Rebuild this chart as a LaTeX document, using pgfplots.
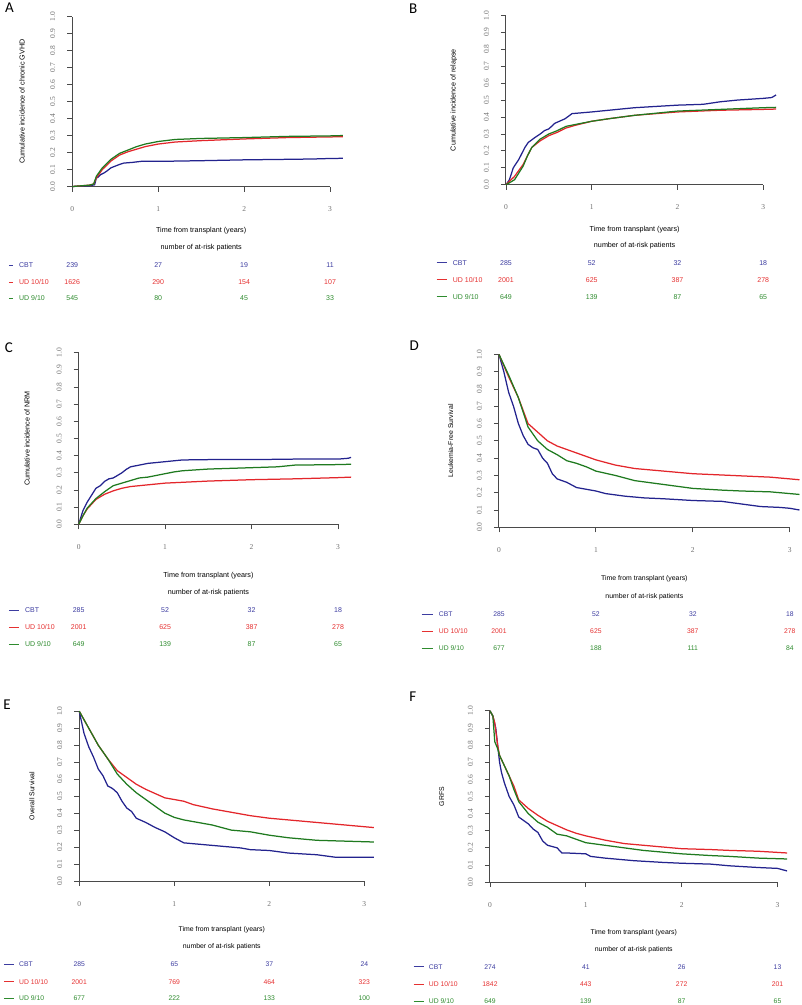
\documentclass[border=0pt]{standalone}
\usepackage{pgfplots}
\pgfplotsset{compat=1.18}
\usepackage{fontspec}
\setmainfont{Liberation Sans}
\newfontfamily\serifft{Liberation Serif}
\newfontfamily\letterfont{Carlito}
\definecolor{cblue}{HTML}{23238E}
\definecolor{cred}{HTML}{E3262B}
\definecolor{cgreen}{HTML}{1F7A1F}
\definecolor{tblue}{HTML}{3C3CA0}
\definecolor{tred}{HTML}{E53030}
\definecolor{tgreen}{HTML}{2E8B2E}
\definecolor{axgray}{HTML}{4A4A4A}
\definecolor{tickgray}{HTML}{707070}
\newcommand\fs[1]{\fontsize{#1}{#1}\selectfont}
\tikzset{tab/.style={font=\fs{#1}, inner sep=0pt, anchor=center}}
\pgfplotsset{
 km/.style={scale only axis, xmin=0, xmax=3, ymin=0, ymax=1, enlargelimits=false, clip=false,
  axis lines=left, axis line style={-, line width=1pt, draw=axgray},
  xtick={0,1,2,3}, xticklabels={0,1,2,3},
  ytick={0,0.1,0.2,0.3,0.4,0.5,0.6,0.7,0.8,0.9,1},
  yticklabels={0.0,0.1,0.2,0.3,0.4,0.5,0.6,0.7,0.8,0.9,1.0},
  tick align=outside, major tick length=5pt,
  every tick/.style={line width=0.9pt, draw=axgray},
  xticklabel style={font=\serifft\fs{7.5}, text=tickgray, anchor=center, yshift=-17.7pt},
  yticklabel style={font=\serifft\fs{7.5}, text=tickgray, anchor=center, xshift=-14.5pt, rotate=90},
  every axis plot/.append style={line width=1.25pt, mark=none},
 },
 cbt/.style={cblue},
}
% at-risk row: yshift, colour, size, four numbers
\newcommand\riskrow[7]{%
 \node[tab=#3, text=#2, yshift=#1] at (axis cs:0,0) {#4};
 \node[tab=#3, text=#2, yshift=#1] at (axis cs:1,0) {#5};
 \node[tab=#3, text=#2, yshift=#1] at (axis cs:2,0) {#6};
 \node[tab=#3, text=#2, yshift=#1] at (axis cs:3,0) {#7};}
\newcommand\xlab[3]{% yshift xlabel, yshift subtitle, size
 \node[tab=#3, yshift=#1] at (axis cs:1.5,0) {Time from transplant (years)};
 \node[tab=#3, yshift=#2] at (axis cs:1.5,0) {number of at-risk patients};}
\newcommand\ylab[3]{% xshift, size, text
 \node[tab=#2, xshift=#1, rotate=90] at (axis cs:0,0.5) {#3};}
\begin{document}
\begin{tikzpicture}
\path (0pt,0pt) rectangle (800pt,1005pt);
% ---------------- A
\begin{axis}[km, at={(70.3pt,819pt)}, anchor=south west, width=258pt, height=170pt]
\addplot[cbt] coordinates {(0,0) (0.2,0.005) (0.26,0.01) (0.28,0.05) (0.3,0.055) (0.33,0.07) (0.37,0.08) (0.4,0.09) (0.45,0.11) (0.5,0.12) (0.55,0.13) (0.6,0.138) (0.7,0.142) (0.8,0.148) (1.0,0.148) (1.5,0.152) (1.8,0.155) (2.0,0.157) (2.5,0.16) (2.8,0.162) (3.0,0.165) (3.15,0.166)};
\addplot[cred] coordinates {(0,0) (0.2,0.008) (0.25,0.015) (0.28,0.05) (0.35,0.1) (0.45,0.15) (0.55,0.185) (0.65,0.205) (0.75,0.22) (0.85,0.235) (1.0,0.25) (1.2,0.262) (1.5,0.27) (2.0,0.28) (2.5,0.288) (3.0,0.292) (3.15,0.293)};
\addplot[cgreen] coordinates {(0,0) (0.2,0.008) (0.25,0.015) (0.28,0.06) (0.35,0.11) (0.45,0.16) (0.55,0.195) (0.65,0.215) (0.75,0.235) (0.85,0.25) (1.0,0.265) (1.2,0.277) (1.5,0.283) (2.0,0.288) (2.5,0.295) (3.0,0.298) (3.15,0.3)};
\ylab{-50.3pt}{7.2}{Cumulative incidence of chronic GVHD}
\xlab{-44pt}{-61pt}{7.2}
\riskrow{-79pt}{tblue}{7}{239}{27}{19}{11}
\riskrow{-96pt}{tred}{7}{1626}{290}{154}{107}
\riskrow{-112pt}{tgreen}{7}{545}{80}{45}{33}
\end{axis}
% ---------------- B
\begin{axis}[km, at={(504.3pt,820.7pt)}, anchor=south west, width=257.4pt, height=169.6pt]
\addplot[cbt] coordinates {(0,0) (0.04,0.03) (0.085,0.1) (0.15,0.15) (0.22,0.22) (0.26,0.25) (0.34,0.28) (0.4,0.3) (0.45,0.32) (0.5,0.33) (0.57,0.363) (0.69,0.39) (0.77,0.42) (1.0,0.43) (1.2,0.44) (1.5,0.455) (2.0,0.47) (2.3,0.475) (2.5,0.49) (2.7,0.5) (3.0,0.51) (3.1,0.515) (3.15,0.53)};
\addplot[cred] coordinates {(0,0) (0.1,0.05) (0.2,0.12) (0.25,0.17) (0.3,0.22) (0.4,0.26) (0.5,0.29) (0.6,0.31) (0.7,0.335) (0.8,0.35) (1.0,0.375) (1.2,0.39) (1.5,0.41) (2.0,0.43) (2.5,0.44) (3.0,0.445) (3.15,0.447)};
\addplot[cgreen] coordinates {(0,0) (0.1,0.03) (0.2,0.11) (0.25,0.17) (0.3,0.22) (0.4,0.27) (0.5,0.3) (0.6,0.32) (0.7,0.345) (0.8,0.355) (1.0,0.375) (1.2,0.39) (1.5,0.41) (2.0,0.435) (2.5,0.445) (3.0,0.455) (3.15,0.457)};
\ylab{-52.3pt}{7.2}{Cumulative incidence of relapse}
\xlab{-44.4pt}{-60.7pt}{7.2}
\riskrow{-78pt}{tblue}{7}{285}{52}{32}{18}
\riskrow{-95pt}{tred}{7}{2001}{625}{387}{278}
\riskrow{-112pt}{tgreen}{7}{649}{139}{87}{65}
\end{axis}
% ---------------- C
\begin{axis}[km, at={(76.7pt,481pt)}, anchor=south west, width=259.6pt, height=171.7pt]
\addplot[cbt] coordinates {(0,0) (0.05,0.08) (0.1,0.13) (0.15,0.17) (0.2,0.21) (0.25,0.225) (0.3,0.25) (0.35,0.265) (0.4,0.27) (0.45,0.285) (0.5,0.3) (0.55,0.32) (0.6,0.335) (0.7,0.345) (0.8,0.355) (0.9,0.36) (1.0,0.365) (1.1,0.37) (1.2,0.375) (1.5,0.377) (2.0,0.377) (2.5,0.38) (3.0,0.38) (3.12,0.385) (3.15,0.39)};
\addplot[cred] coordinates {(0,0) (0.05,0.05) (0.1,0.09) (0.2,0.145) (0.3,0.175) (0.4,0.195) (0.5,0.21) (0.6,0.22) (0.8,0.23) (1.0,0.24) (1.5,0.252) (2.0,0.26) (2.5,0.265) (3.0,0.272) (3.15,0.275)};
\addplot[cgreen] coordinates {(0,0) (0.05,0.05) (0.1,0.095) (0.2,0.15) (0.3,0.19) (0.4,0.225) (0.5,0.24) (0.6,0.255) (0.7,0.27) (0.8,0.275) (1.0,0.295) (1.1,0.305) (1.2,0.312) (1.5,0.322) (2.0,0.33) (2.3,0.335) (2.5,0.345) (3.0,0.348) (3.15,0.35)};
\ylab{-51.7pt}{7.2}{Cumulative incidence of NRM}
\xlab{-51.3pt}{-68.7pt}{7.2}
\riskrow{-86pt}{tblue}{7}{285}{52}{32}{18}
\riskrow{-102.7pt}{tred}{7}{2001}{625}{387}{278}
\riskrow{-120pt}{tgreen}{7}{649}{139}{87}{65}
\end{axis}
% ---------------- D
\begin{axis}[km, at={(497.3pt,478pt)}, anchor=south west, width=291pt, height=173pt]
\addplot[cbt] coordinates {(0,1) (0.05,0.9) (0.1,0.78) (0.15,0.7) (0.2,0.6) (0.25,0.53) (0.3,0.48) (0.35,0.46) (0.4,0.45) (0.45,0.4) (0.5,0.37) (0.55,0.31) (0.6,0.28) (0.7,0.26) (0.8,0.23) (0.9,0.22) (1.0,0.21) (1.1,0.195) (1.3,0.18) (1.5,0.17) (1.7,0.165) (2.0,0.155) (2.3,0.15) (2.5,0.135) (2.7,0.12) (2.9,0.115) (3.0,0.11) (3.1,0.1)};
\addplot[cred] coordinates {(0,1) (0.1,0.87) (0.2,0.75) (0.3,0.6) (0.4,0.55) (0.5,0.5) (0.6,0.47) (0.8,0.43) (1.0,0.39) (1.2,0.36) (1.4,0.34) (1.6,0.33) (1.8,0.32) (2.0,0.31) (2.4,0.3) (2.8,0.29) (3.1,0.275)};
\addplot[cgreen] coordinates {(0,1) (0.1,0.88) (0.2,0.75) (0.3,0.58) (0.4,0.5) (0.5,0.45) (0.6,0.42) (0.7,0.385) (0.8,0.37) (0.9,0.35) (1.0,0.325) (1.2,0.3) (1.4,0.27) (1.6,0.255) (1.8,0.24) (2.0,0.225) (2.3,0.215) (2.5,0.21) (2.8,0.205) (3.1,0.19)};
\ylab{-48.3pt}{6.9}{Leukemia-Free Survival}
\xlab{-51.3pt}{-69pt}{6.9}
\riskrow{-87pt}{tblue}{6.8}{285}{52}{32}{18}
\riskrow{-104pt}{tred}{6.8}{2001}{625}{387}{278}
\riskrow{-121.3pt}{tgreen}{6.8}{677}{188}{111}{84}
\end{axis}
% ---------------- E
\begin{axis}[km, at={(77.3pt,124pt)}, anchor=south west, width=285.3pt, height=170pt]
\addplot[cbt] coordinates {(0,1) (0.05,0.87) (0.1,0.79) (0.15,0.73) (0.2,0.66) (0.25,0.62) (0.3,0.56) (0.35,0.545) (0.4,0.52) (0.45,0.47) (0.5,0.43) (0.55,0.41) (0.6,0.37) (0.7,0.345) (0.8,0.315) (0.9,0.29) (1.0,0.255) (1.1,0.225) (1.3,0.215) (1.5,0.205) (1.7,0.195) (1.8,0.185) (2.0,0.18) (2.2,0.165) (2.5,0.155) (2.7,0.14) (3.1,0.14)};
\addplot[cred] coordinates {(0,1) (0.1,0.9) (0.2,0.8) (0.3,0.72) (0.4,0.65) (0.5,0.61) (0.6,0.57) (0.7,0.54) (0.8,0.515) (0.9,0.49) (1.0,0.48) (1.1,0.47) (1.2,0.45) (1.4,0.425) (1.6,0.405) (1.8,0.385) (2.0,0.37) (2.2,0.36) (2.5,0.345) (2.8,0.33) (3.1,0.315)};
\addplot[cgreen] coordinates {(0,1) (0.1,0.9) (0.2,0.8) (0.3,0.72) (0.4,0.63) (0.5,0.57) (0.6,0.52) (0.7,0.48) (0.8,0.44) (0.9,0.4) (1.0,0.375) (1.1,0.36) (1.2,0.35) (1.4,0.33) (1.6,0.3) (1.8,0.29) (2.0,0.27) (2.2,0.255) (2.5,0.24) (2.8,0.235) (3.1,0.23)};
\ylab{-47.3pt}{6.9}{Overall Survival}
\xlab{-49pt}{-65.7pt}{6.9}
\riskrow{-83.3pt}{tblue}{6.8}{285}{65}{37}{24}
\riskrow{-100.7pt}{tred}{6.8}{2001}{769}{464}{323}
\riskrow{-117.3pt}{tgreen}{6.8}{677}{222}{133}{100}
\end{axis}
% ---------------- F
\begin{axis}[km, at={(488.3pt,123pt)}, anchor=south west, width=287.7pt, height=171.3pt]
\addplot[cbt] coordinates {(0,1) (0.03,0.97) (0.06,0.9) (0.08,0.8) (0.1,0.7) (0.12,0.64) (0.15,0.58) (0.2,0.5) (0.25,0.45) (0.3,0.38) (0.35,0.36) (0.4,0.34) (0.45,0.31) (0.5,0.29) (0.55,0.24) (0.6,0.215) (0.7,0.2) (0.75,0.17) (0.8,0.17) (1.0,0.165) (1.05,0.15) (1.2,0.14) (1.5,0.125) (1.8,0.115) (2.0,0.11) (2.3,0.105) (2.5,0.095) (2.8,0.085) (3.0,0.08) (3.1,0.065)};
\addplot[cred] coordinates {(0,1) (0.03,0.97) (0.05,0.93) (0.08,0.8) (0.1,0.74) (0.15,0.68) (0.2,0.62) (0.25,0.56) (0.3,0.48) (0.4,0.43) (0.5,0.39) (0.6,0.355) (0.7,0.33) (0.8,0.305) (0.9,0.285) (1.0,0.27) (1.2,0.245) (1.4,0.225) (1.6,0.215) (1.8,0.205) (2.0,0.195) (2.3,0.19) (2.5,0.185) (2.8,0.18) (3.1,0.17)};
\addplot[cgreen] coordinates {(0,1) (0.03,0.97) (0.05,0.82) (0.08,0.78) (0.1,0.74) (0.15,0.68) (0.2,0.62) (0.25,0.54) (0.3,0.47) (0.4,0.4) (0.5,0.35) (0.6,0.32) (0.7,0.28) (0.8,0.27) (0.9,0.25) (1.0,0.23) (1.2,0.215) (1.4,0.2) (1.6,0.185) (1.8,0.175) (2.0,0.165) (2.3,0.155) (2.5,0.15) (2.8,0.14) (3.1,0.135)};
\ylab{-48.3pt}{6.9}{GRFS}
\xlab{-50.3pt}{-67.3pt}{6.9}
\riskrow{-84.7pt}{tblue}{6.8}{274}{41}{26}{13}
\riskrow{-102pt}{tred}{6.8}{1842}{443}{272}{201}
\riskrow{-119pt}{tgreen}{6.8}{649}{139}{87}{65}
\end{axis}
% ---------------- panel letters
\node[font=\letterfont\fs{15}, anchor=center] at (7.5pt,997.5pt) {A};
\node[font=\letterfont\fs{15}, anchor=center] at (411.5pt,997pt) {B};
\node[font=\letterfont\fs{15}, anchor=center] at (7pt,657.5pt) {C};
\node[font=\letterfont\fs{15}, anchor=center] at (412.5pt,659.5pt) {D};
\node[font=\letterfont\fs{15}, anchor=center] at (5pt,300.5pt) {E};
\node[font=\letterfont\fs{15}, anchor=center] at (411pt,309pt) {F};
% ---------------- risk-table keys
\foreach \xa/\xb/\xt/\ya/\yb/\yc/\s in {7/11/17/740/723/707/7, 435/445/451/742.7/725.7/708.7/7, 7/17/23/395/378.3/361/7, 420/431/437/391/374/356.7/6.8, 2/12/17/40.7/23.3/6.7/6.8, 412/422/427/38.3/21/4/6.8}{
 \draw[tblue, line width=0.8pt] (\xa pt,\ya pt) -- (\xb pt,\ya pt);
 \draw[tred, line width=0.8pt] (\xa pt,\yb pt) -- (\xb pt,\yb pt);
 \draw[tgreen, line width=0.8pt] (\xa pt,\yc pt) -- (\xb pt,\yc pt);
 \node[font=\fs{\s}, text=tblue, anchor=west, inner sep=0pt] at (\xt pt,\ya pt) {CBT};
 \node[font=\fs{\s}, text=tred, anchor=west, inner sep=0pt] at (\xt pt,\yb pt) {UD 10/10};
 \node[font=\fs{\s}, text=tgreen, anchor=west, inner sep=0pt] at (\xt pt,\yc pt) {UD 9/10};
}
\end{tikzpicture}
\end{document}
